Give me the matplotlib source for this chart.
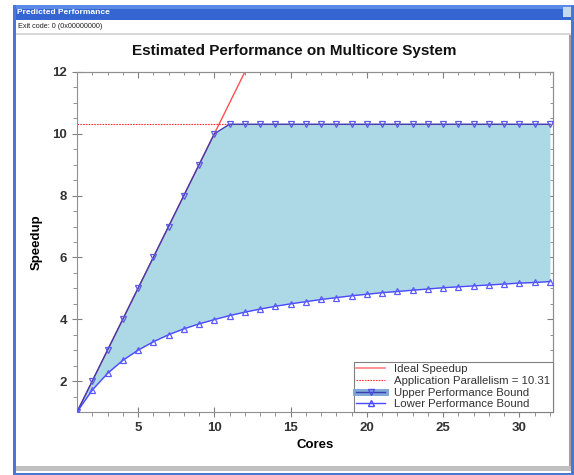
import numpy as np
import matplotlib.pyplot as plt
from matplotlib.patches import Rectangle
from matplotlib.lines import Line2D

plt.rcParams['font.family'] = ['Liberation Sans', 'DejaVu Sans']

cores = list(range(1, 33))
ideal = list(range(1, 33))
parallelism = 10.31
upper = [1, 2, 3, 4, 5, 6, 7, 8, 9, 10] + [10.31] * 22
lower = [1.00, 1.71, 2.25, 2.67, 3.00, 3.27, 3.50, 3.69, 3.85, 3.99,
         4.12, 4.23, 4.33, 4.42, 4.50, 4.57, 4.64, 4.70, 4.76, 4.81,
         4.86, 4.90, 4.94, 4.98, 5.02, 5.05, 5.08, 5.11, 5.14, 5.17,
         5.19, 5.22]

W, H = 574, 475


def fx(x):
    return x / W


def fy(y):
    return 1 - y / H


fig = plt.figure(figsize=(W / 100, H / 100), dpi=100)

# window frame
def box(x0, y0, x1, y1, color):
    fig.patches.append(Rectangle((fx(x0), fy(y1)), fx(x1) - fx(x0), fy(y0) - fy(y1),
                                 transform=fig.transFigure, facecolor=color,
                                 edgecolor='none', zorder=-10))

box(13, 5, 574, 475, '#4a78d0')
box(16, 5, 571, 20, '#3565d0')
box(16, 5, 571, 9, '#5a8ae8')
box(16, 20, 571, 473, '#ffffff')
box(16, 33, 571, 35, '#d8d8d8')
box(569, 35, 571, 470, '#a0a0a0')
box(16, 466, 571, 471, '#c0c0c0')
box(563, 7, 571, 17, '#c8d8f0')
fig.text(fx(17), fy(12.5), 'Predicted Performance', color='white', fontsize=6,
         fontweight='bold', va='center', ha='left')
fig.text(fx(18), fy(27), 'Exit code: 0 (0x00000000)', color='#222222', fontsize=5.2,
         va='center', ha='left')

ax = fig.add_axes([fx(77), fy(412), fx(553) - fx(77), fy(72) - fy(412)])
ax.set_zorder(5)

ax.fill_between(cores, lower, upper, color='#add8e6', lw=0, zorder=1)
ax.plot(cores, ideal, color='#ff5050', lw=1, zorder=2)
ax.axhline(parallelism, color='#ff3030', lw=0.8, ls=(0, (1.5, 1)), zorder=2)
ax.plot(cores, upper, color='#3c3cb4', lw=1, marker='v', ms=4.8, mfc='none',
        mec='#5a5ae6', mew=0.9, zorder=3)
ax.plot(cores, lower, color='#4a4aff', lw=1, marker='^', ms=4.8, mfc='none',
        mec='#5a5aff', mew=0.9, zorder=3)

ax.set_xlim(1, 32.2)
ax.set_ylim(1, 12)
ax.set_xticks([5, 10, 15, 20, 25, 30])
ax.set_xticks(range(2, 33), minor=True)
ax.set_yticks([2, 4, 6, 8, 10, 12])
ax.set_yticks(np.arange(1.5, 12.1, 0.5), minor=True)

for s in ax.spines.values():
    s.set_color('#909090')
ax.tick_params(which='major', direction='inout', length=7, color='#808080',
               labelsize=9.5, labelcolor='#333333')
ax.tick_params(which='minor', direction='out', length=3, color='#808080')
for lab in ax.get_xticklabels() + ax.get_yticklabels():
    lab.set_fontweight('bold')

top = ax.secondary_xaxis('top')
top.set_xticks([5, 10, 15, 20, 25, 30])
top.set_xticks(range(2, 33), minor=True)
top.tick_params(which='major', direction='in', length=4, color='#808080', labeltop=False)
top.tick_params(which='minor', direction='in', length=2, color='#808080')
top.spines['top'].set_color('#909090')
right = ax.secondary_yaxis('right')
right.set_yticks([2, 4, 6, 8, 10, 12])
right.set_yticks(np.arange(1.5, 12.1, 0.5), minor=True)
right.tick_params(which='major', direction='in', length=4, color='#808080', labelright=False)
right.tick_params(which='minor', direction='in', length=2, color='#808080')
right.spines['right'].set_color('#909090')

fig.text(fx(294), fy(51), 'Estimated Performance on Multicore System', fontsize=11,
         fontweight='bold', color='#111111', ha='center', va='center')
ax.set_xlabel('Cores', fontsize=9.5, fontweight='bold', labelpad=4)
ax.set_ylabel('Speedup', fontsize=9.5, fontweight='bold', labelpad=7)

h_ideal = Line2D([], [], color='#ff8080', lw=1.2)
h_par = Line2D([], [], color='#ff3030', lw=0.8, ls=(0, (1.5, 1)))
h_up = (Line2D([], [], color='#7fa8d8', lw=5),
        Line2D([], [], color='#3c3cb4', lw=1, marker='v', ms=5, mfc='none', mec='#5050e0'))
h_low = Line2D([], [], color='#4a4aff', lw=1, marker='^', ms=5, mfc='none', mec='#4a4aff')
leg = ax.legend([h_ideal, h_par, h_up, h_low],
                ['Ideal Speedup', 'Application Parallelism = 10.31',
                 'Upper Performance Bound', 'Lower Performance Bound'],
                loc='lower right', borderaxespad=0, fontsize=8.2, frameon=True,
                fancybox=False, edgecolor='#808080', framealpha=1,
                labelspacing=0.14, handlelength=2.5, borderpad=0.25, handletextpad=0.8)
leg.get_frame().set_linewidth(0.8)
for t in leg.get_texts():
    t.set_color('#333333')

fig.savefig('out.png', dpi=100)
